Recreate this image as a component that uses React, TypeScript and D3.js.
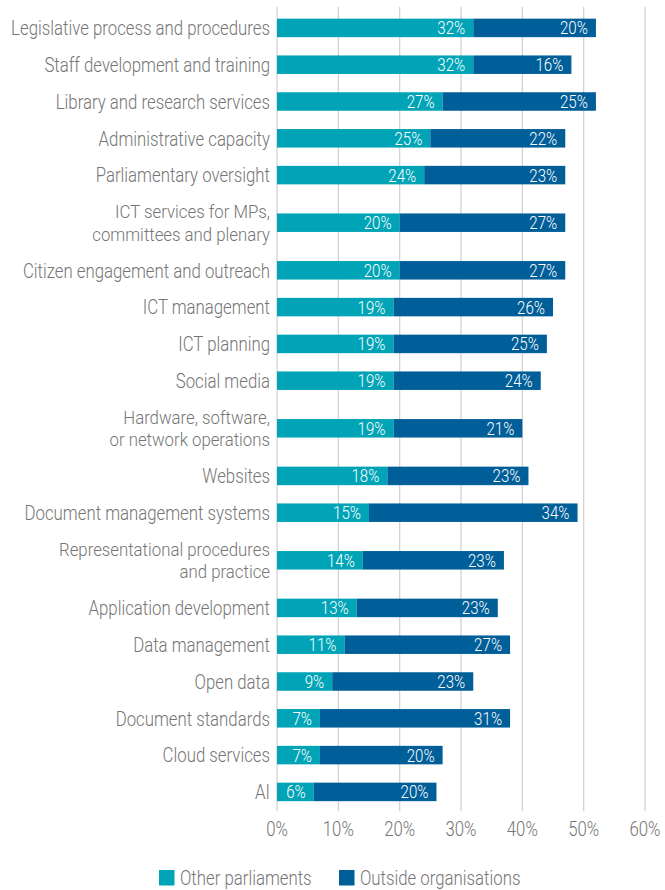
import React from "react";
import * as d3 from "d3";

const categories: string[][] = [
  ["Legislative process and procedures"],
  ["Staff development and training"],
  ["Library and research services"],
  ["Administrative capacity"],
  ["Parliamentary oversight"],
  ["ICT services for MPs,", "committees and plenary"],
  ["Citizen engagement and outreach"],
  ["ICT management"],
  ["ICT planning"],
  ["Social media"],
  ["Hardware, software,", "or network operations"],
  ["Websites"],
  ["Document management systems"],
  ["Representational procedures", "and practice"],
  ["Application development"],
  ["Data management"],
  ["Open data"],
  ["Document standards"],
  ["Cloud services"],
  ["AI"],
];
const otherParliaments = [32, 32, 27, 25, 24, 20, 20, 19, 19, 19, 19, 18, 15, 14, 13, 11, 9, 7, 7, 6];
const outsideOrgs = [20, 16, 25, 22, 23, 27, 27, 26, 25, 24, 21, 23, 34, 23, 23, 27, 23, 31, 20, 20];
const xTicks = [0, 10, 20, 30, 40, 50, 60];
const seriesNames = ["Other parliaments", "Outside organisations"];
const colors = ["#00a4b6", "#005e99"];

const W = 665;
const H = 890;
const FONT = "Roboto, 'Noto Sans', sans-serif";
const SX = 0.84;
const LABEL_COLOR = "#757575";

export default function App() {
  const x = d3.scaleLinear().domain([0, 60]).range([277, 645]);
  const top = 9.5;
  const unit = 36.8;
  const extra = 21.6;
  const weights = categories.map((c) => (c.length > 1 ? 1 + extra / unit : 1));
  const cum = d3.cumsum(weights);
  const total = cum[cum.length - 1];
  const y = d3.scaleLinear().domain([0, total]).range([top, top + total * unit]);
  const centers = weights.map((w, i) => y(cum[i] - w / 2));
  const barH = 18.5;
  const gridBottom = y(total);

  const txt = (key: any, tx: number, ty: number, s: string, size: number, fill: string, anchor: string, sx = SX) => (
    <text
      key={key}
      transform={`translate(${tx},${ty}) scale(${sx},1)`}
      textAnchor={anchor}
      dy="0.36em"
      fontFamily={FONT}
      fontWeight={300}
      fontSize={size}
      fill={fill}
    >
      {s}
    </text>
  );

  return (
    <svg width={W} height={H} style={{ position: "absolute", left: 0, top: 0 }}>
      {xTicks.map((t) => (
        <line key={t} x1={x(t)} x2={x(t)} y1={7} y2={gridBottom + 1} stroke="#d3d3d3" strokeWidth={1.3} />
      ))}
      {categories.map((lines, i) => {
        const cy = centers[i];
        const a = otherParliaments[i];
        const b = outsideOrgs[i];
        const multi = lines.length > 1;
        const lh = 22.5;
        return (
          <g key={i}>
            <rect x={x(0)} y={cy - barH / 2} width={x(a) - x(0)} height={barH} fill={colors[0]} />
            <rect x={x(a)} y={cy - barH / 2} width={x(a + b) - x(a)} height={barH} fill={colors[1]} />
            {lines.map((ln, j) =>
              txt(
                j,
                270,
                cy + (j - (lines.length - 1) / 2) * lh,
                ln,
                multi ? 19.2 : 20,
                LABEL_COLOR,
                "end",
                multi ? 0.875 : SX
              )
            )}
            {txt("a", x(a) - 8, cy, `${a}%`, 18, "#ffffff", "end")}
            {txt("b", x(a + b) - 8, cy, `${b}%`, 18, "#ffffff", "end")}
          </g>
        );
      })}
      {xTicks.map((t) => txt(t, x(t), 829, `${t}%`, 20, LABEL_COLOR, "middle"))}
      {seriesNames.map((s, i) => {
        const lx = i === 0 ? 159 : 339;
        return (
          <g key={s}>
            <rect x={lx} y={870} width={15.5} height={15.5} fill={colors[i]} />
            {txt("t", lx + 21, 878, s, 20, LABEL_COLOR, "start")}
          </g>
        );
      })}
    </svg>
  );
}
